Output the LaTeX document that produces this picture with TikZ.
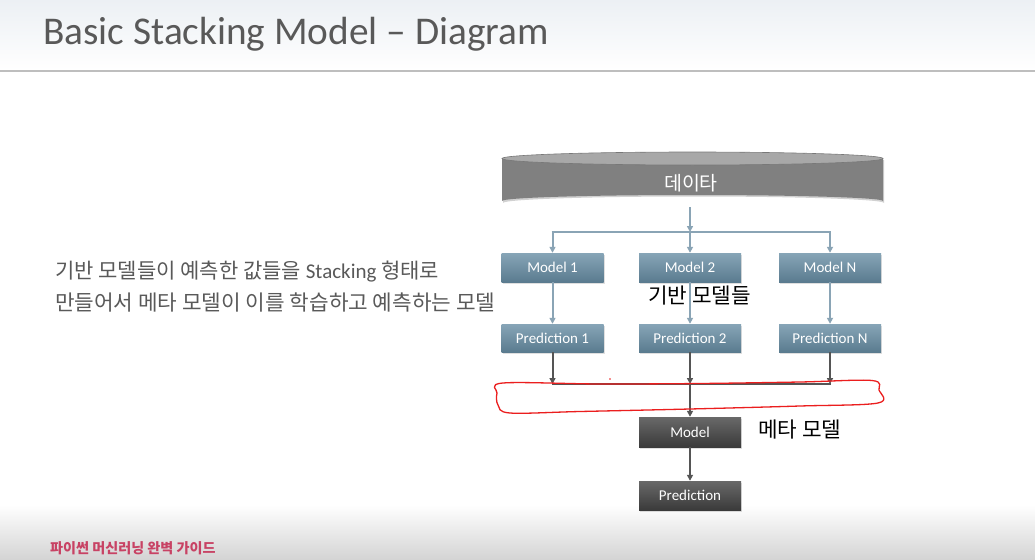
\documentclass[tikz,border=0pt]{standalone}
\usepackage{fontspec}
\setmainfont{Carlito}
\newfontfamily\kr{Noto Sans CJK KR}
\usetikzlibrary{arrows.meta,shadows}

\definecolor{titlegray}{RGB}{89,89,89}
\definecolor{rulegray}{RGB}{190,190,190}
\definecolor{bluetop}{RGB}{135,165,183}
\definecolor{bluebot}{RGB}{90,123,143}
\definecolor{darktop}{RGB}{105,105,105}
\definecolor{darkbot}{RGB}{58,58,58}
\definecolor{bluearrow}{RGB}{138,164,181}
\definecolor{darkarrow}{RGB}{85,85,85}
\definecolor{footred}{RGB}{200,66,100}
\definecolor{inkred}{RGB}{235,30,30}
\definecolor{headtint}{RGB}{236,240,244}
\definecolor{foottint}{RGB}{212,212,212}
\definecolor{cylbody}{RGB}{128,128,128}
\definecolor{cyltop}{RGB}{168,168,168}
\definecolor{cyledge}{RGB}{120,120,120}

\tikzset{
  basebox/.style={rectangle, minimum width=102pt, minimum height=29pt,
    inner sep=0pt, text=white, font=\fontsize{15}{15}\selectfont,
    top color=bluetop, bottom color=bluebot, draw=none,
    drop shadow={opacity=0.25, shadow xshift=1pt, shadow yshift=-1.5pt}},
  metabox/.style={basebox, top color=darktop, bottom color=darkbot},
  bluelink/.style={draw=bluearrow, line width=2pt,
    -{Triangle[length=6pt,width=6pt]}},
  blueline/.style={draw=bluearrow, line width=2pt},
  darklink/.style={draw=darkarrow, line width=2pt,
    -{Triangle[length=6pt,width=6pt]}},
  darkline/.style={draw=darkarrow, line width=2pt},
  krlabel/.style={font=\kr\fontsize{21.3}{21.3}\selectfont, inner sep=0pt},
}

\begin{document}
\begin{tikzpicture}[x=1pt,y=-1pt]
\useasboundingbox (0,0) rectangle (1035,559);

% page background
\fill[white] (0,0) rectangle (1035,559);
\shade[top color=headtint, bottom color=white] (0,0) rectangle (1035,70);
\shade[top color=white, bottom color=foottint] (0,505) rectangle (1035,559);

% title and rule
\node[anchor=base west, inner sep=0pt, text=titlegray,
  font=\fontsize{39.3}{39.3}\selectfont] (title) at (43,45) {Basic Stacking Model – Diagram};
\draw[rulegray, line width=2pt] (0,71) -- (1035,71);

% description
\node[anchor=base west, inner sep=0pt, text=titlegray,
  font=\fontsize{21}{21}\selectfont] (desc1) at (55,278)
  {\kr 기반 모델들이 예측한 값들을 \rmfamily Stacking \kr 형태로};
\node[anchor=base west, inner sep=0pt, text=titlegray,
  font=\kr\fontsize{21.3}{21.3}\selectfont] (desc2) at (55,310)
  {만들어서 메타 모델이 이를 학습하고 예측하는 모델};

% data store cylinder
\fill[black, opacity=0.18] (503,160) -- (503,203) arc[start angle=180, end angle=360, x radius=190.5, y radius=6.5] -- (884,160) -- cycle;
\fill[cylbody] (502,158.5) -- (502,201)
  arc[start angle=180, end angle=360, x radius=190.5, y radius=6] -- (883,158.5) -- cycle;
\fill[cyltop] (692.5,158.5) ellipse[x radius=190.5, y radius=6.5];
\draw[cyledge, line width=0.6pt] (692.5,158.5) ellipse[x radius=190.5, y radius=6.5];
\node[inner sep=0pt, minimum width=381pt, minimum height=55pt] (data) at (692.5,179.5) {};
\node[text=white, font=\kr\fontsize{19.5}{19.5}\selectfont] (datalabel) at (691,183) {데이타};

% base models and their predictions
\node[basebox] (m1) at (552.5,267.5) {Model 1};
\node[basebox] (m2) at (690,267.5) {Model 2};
\node[basebox] (mn) at (830,267.5) {Model N};
\node[basebox, minimum height=28pt] (p1) at (552.5,338) {Prediction 1};
\node[basebox, minimum height=28pt] (p2) at (690,338) {Prediction 2};
\node[basebox, minimum height=28pt] (pn) at (830,338) {Prediction N};

% meta model
\node[metabox, minimum height=30pt] (meta) at (690,432) {Model};
\node[metabox] (final) at (690,495.5) {Prediction};

% fan-out from the data store
\coordinate (b1) at (552.5,232);
\coordinate (b2) at (690,232);
\coordinate (bn) at (830,232);
\draw[bluelink] (data.south -| b2) -- (b2);
\draw[blueline] ([xshift=-1pt]b1) -- ([xshift=1pt]bn);
\draw[bluelink] (b1) -- (m1.north);
\draw[bluelink] (b2) -- (m2.north);
\draw[bluelink] (bn) -- (mn.north);
\draw[bluelink] (m1) -- (p1);
\draw[bluelink] (m2) -- (p2);
\draw[bluelink] (mn) -- (pn);

% stacking of the predictions
\coordinate (j1) at (552.5,384);
\coordinate (j2) at (690,384);
\coordinate (jn) at (830,384);
\draw[darklink] (p1) -- (j1);
\draw[darklink] (p2) -- (j2);
\draw[darklink] (pn) -- (jn);
\draw[darkline] ([xshift=-1pt]j1) -- ([xshift=1pt]jn);
\draw[darklink] (j2) -- (meta.north);
\draw[darklink] (meta) -- (final);

% labels
\node[krlabel, anchor=west] (baselabel) at (648,296) {기반 모델들};
\node[krlabel, anchor=west] (metalabel) at (758,430) {메타 모델};

% red pen annotation
\draw[inkred, line width=1.3pt, line join=round]
  plot[smooth cycle, tension=0.55] coordinates {
    (503,383) (600,384) (700,383.5) (800,382) (872,380.5)
    (879,390) (878,403) (800,406) (690,409) (580,411.5) (510,413)
    (498,405) (497,393)};
\fill[inkred] (610,379) circle[radius=0.9];

% footer
\node[anchor=base west, inner sep=0pt, text=footred,
  font=\kr\bfseries\fontsize{14.1}{14.1}\selectfont] (footer) at (50,553)
  {파이썬 머신러닝 완벽 가이드};
\end{tikzpicture}
\end{document}
